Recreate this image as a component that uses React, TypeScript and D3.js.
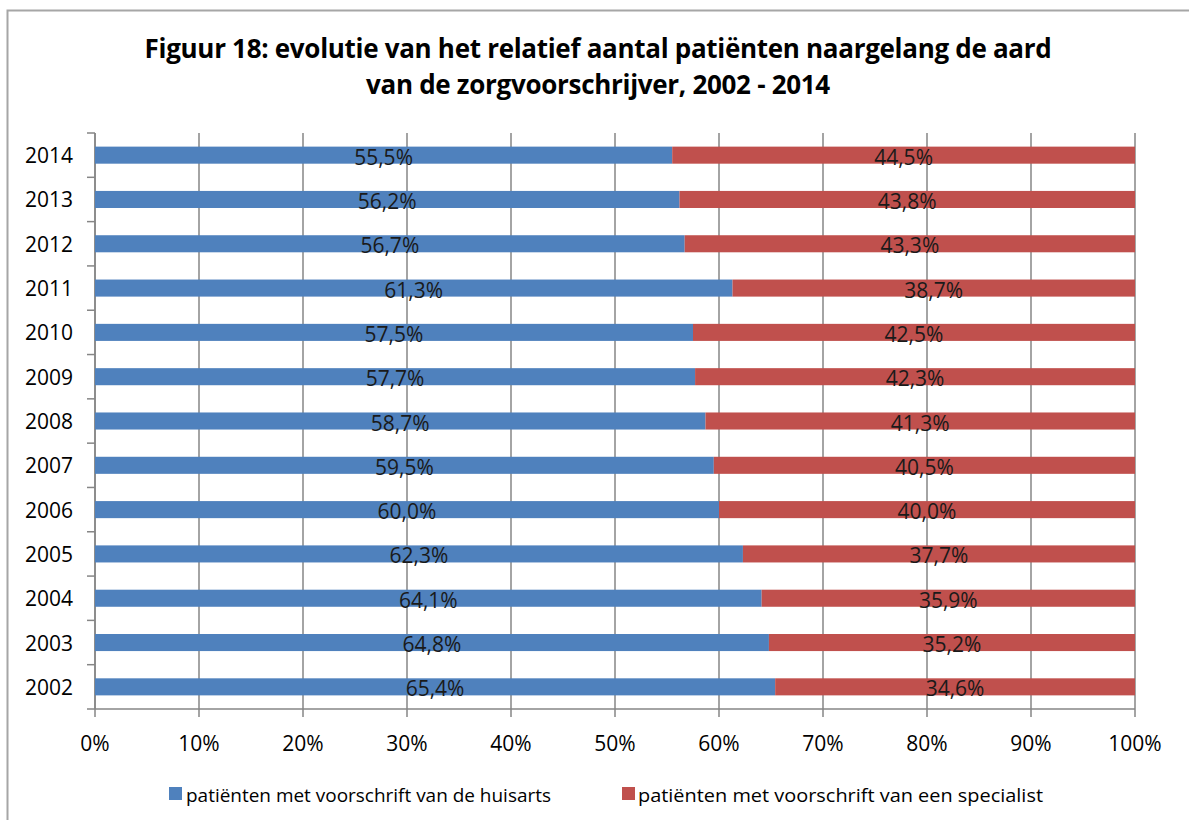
import React from "react";
import * as d3 from "d3";

const years = ["2002","2003","2004","2005","2006","2007","2008","2009","2010","2011","2012","2013","2014"];
const huisarts = [65.4,64.8,64.1,62.3,60.0,59.5,58.7,57.7,57.5,61.3,56.7,56.2,55.5];
const specialist = [34.6,35.2,35.9,37.7,40.0,40.5,41.3,42.3,42.5,38.7,43.3,43.8,44.5];
const xTicks = [0,10,20,30,40,50,60,70,80,90,100];
const seriesNames = ["patiënten met voorschrift van de huisarts","patiënten met voorschrift van een specialist"];
const titleLines = ["Figuur 18: evolutie van het relatief aantal patiënten naargelang de aard","van de zorgvoorschrijver, 2002 - 2014"];

const W = 1189, H = 820;
const left = 95, right = 1135, top = 133, bottom = 709;
const BLUE = "#4F81BD", RED = "#C0504D";
const FONT = "'Open Sans', sans-serif";

export default function App() {
  const x = d3.scaleLinear().domain([0, 100]).range([left, right]);
  const order = [...years].reverse(); // 2014 at top
  const y = d3.scaleBand().domain(order).range([top, bottom]).paddingInner(0.615).paddingOuter(0.3075);
  const bandStep = (bottom - top) / years.length;
  const fmt = (v: number) => v.toFixed(1).replace(".", ",") + "%";
  return (
    <svg width={W} height={H} style={{ position: "absolute", left: 0, top: 0 }}>
      <rect x={0} y={0} width={W} height={H} fill="#fff" />
      <path d={`M7.5,${H} V10.5 H${W}`} fill="none" stroke="#a6a6a6" strokeWidth={2} />
      {titleLines.map((t, i) => (
        <text key={i} x={598} y={58 + i * 36} textAnchor="middle" fontFamily={FONT} fontWeight="bold" fontSize={26} fill="#000" letterSpacing={-0.3}>{t}</text>
      ))}
      {/* gridlines */}
      {xTicks.map((t) => (
        <line key={t} x1={x(t)} x2={x(t)} y1={top} y2={bottom + 8} stroke="#868686" strokeWidth={1.5} />
      ))}
      {/* y axis */}
      <line x1={left} x2={left} y1={top} y2={bottom} stroke="#868686" strokeWidth={1.5} />
      {d3.range(years.length + 1).map((i) => (
        <line key={i} x1={left - 8} x2={left} y1={top + i * bandStep} y2={top + i * bandStep} stroke="#868686" strokeWidth={1.5} />
      ))}
      <line x1={left} x2={right} y1={bottom} y2={bottom} stroke="#868686" strokeWidth={1.5} />
      {/* bars */}
      {years.map((yr, i) => {
        const yy = y(yr)!;
        const h = y.bandwidth();
        const b = huisarts[i], s = specialist[i];
        return (
          <g key={yr}>
            <rect x={x(0)} y={yy} width={x(b) - x(0)} height={h} fill={BLUE} />
            <rect x={x(b)} y={yy} width={x(b + s) - x(b)} height={h} fill={RED} />
            <text x={(x(0) + x(b)) / 2} y={yy + h + 1} textAnchor="middle" fontFamily={FONT} fontSize={21} fill="#1a1a1a">{fmt(b)}</text>
            <text x={(x(b) + x(b + s)) / 2} y={yy + h + 1} textAnchor="middle" fontFamily={FONT} fontSize={21} fill="#1a1a1a">{fmt(s)}</text>
            <text x={73} y={yy + h / 2 + 8} textAnchor="end" fontFamily={FONT} fontSize={21} fill="#000">{yr}</text>
          </g>
        );
      })}
      {xTicks.map((t) => (
        <text key={t} x={x(t)} y={751} textAnchor="middle" fontFamily={FONT} fontSize={21} fill="#000">{t + "%"}</text>
      ))}
      {/* legend */}
      <rect x={169} y={787} width={13} height={13} fill={BLUE} />
      <text x={186} y={802} fontFamily={FONT} fontSize={19} fill="#000" textLength={365} lengthAdjust="spacingAndGlyphs">{seriesNames[0]}</text>
      <rect x={622} y={787} width={13} height={13} fill={RED} />
      <text x={638} y={802} fontFamily={FONT} fontSize={19} fill="#000" textLength={405} lengthAdjust="spacingAndGlyphs">{seriesNames[1]}</text>
    </svg>
  );
}
